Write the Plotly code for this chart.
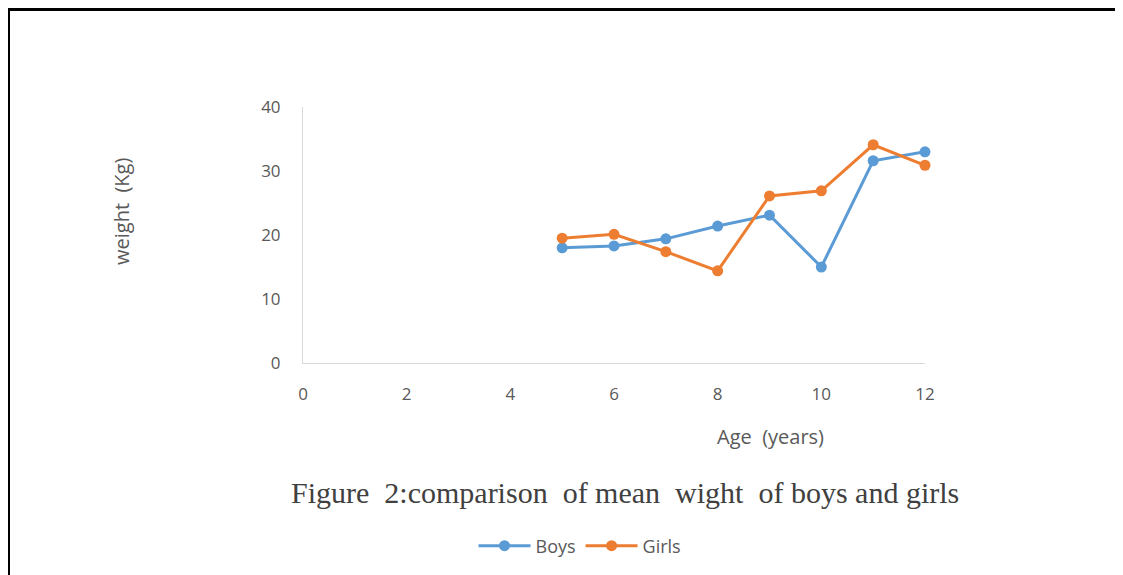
import plotly.graph_objects as go

ages = [5, 6, 7, 8, 9, 10, 11, 12]
boys = [18.0, 18.3, 19.4, 21.4, 23.1, 15.0, 31.6, 33.0]
girls = [19.5, 20.1, 17.4, 14.4, 26.1, 26.9, 34.1, 30.9]
x_ticks = [0, 2, 4, 6, 8, 10, 12]
y_ticks = [0, 10, 20, 30, 40]

OFF = 8  # page body margin
W, H = 1123 - OFF, 575 - OFF
L, R, T, B = 303 - OFF, 925 - OFF, 107 - OFF, 363 - OFF

def px(xp):
    return (xp - OFF - L) / (R - L)

def py(yp):
    return (B - (yp - OFF)) / (B - T)

fig = go.Figure()
fig.add_trace(go.Scatter(x=ages, y=boys, name="Boys", mode="lines+markers",
                         line=dict(color="#5b9bd5", width=3),
                         marker=dict(color="#5b9bd5", size=11),
                         cliponaxis=False))
fig.add_trace(go.Scatter(x=ages, y=girls, name="Girls", mode="lines+markers",
                         line=dict(color="#ed7d31", width=3),
                         marker=dict(color="#ed7d31", size=11),
                         cliponaxis=False))

sans = "Open Sans, DejaVu Sans, sans-serif"
tick_font = dict(family=sans, size=17, color="#595959")

fig.update_layout(
    width=W, height=H,
    margin=dict(l=L, r=W - R, t=T, b=H - B, autoexpand=False),
    paper_bgcolor="white", plot_bgcolor="white",
    showlegend=True,
    legend=dict(orientation="h", x=px(580), y=py(546), xanchor="center", yanchor="middle",
                font=dict(family=sans, size=18, color="#595959"),
                itemwidth=52, bgcolor="rgba(0,0,0,0)"),
    xaxis=dict(range=[0, 12], tickvals=x_ticks, showgrid=False, zeroline=False,
               showline=True, linecolor="#d9d9d9", linewidth=1, ticks="",
               tickfont=tick_font, ticklabelstandoff=16),
    yaxis=dict(range=[0, 40], tickvals=y_ticks, showgrid=False, zeroline=False,
               showline=True, linecolor="#d9d9d9", linewidth=1, ticks="",
               tickfont=tick_font, ticklabelstandoff=18),
    annotations=[
        dict(text="Age&nbsp; (years)", x=px(770), y=py(436), xref="paper", yref="paper",
             showarrow=False, xanchor="center", yanchor="middle",
             font=dict(family=sans, size=20, color="#595959")),
        dict(text="weight&nbsp; (Kg)", x=px(121), y=py(212), xref="paper", yref="paper",
             showarrow=False, xanchor="center", yanchor="middle", textangle=-90,
             font=dict(family=sans, size=20, color="#595959")),
        dict(text="Figure&nbsp; 2:comparison&nbsp; of mean&nbsp; wight&nbsp; of boys and girls",
             x=px(625), y=py(492), xref="paper", yref="paper",
             showarrow=False, xanchor="center", yanchor="middle",
             font=dict(family="Liberation Serif, Times New Roman, serif", size=30, color="#404040")),
    ],
    shapes=[
        dict(type="line", xref="paper", yref="paper", x0=px(6), x1=px(1140),
             y0=py(9.5), y1=py(9.5), line=dict(color="black", width=3)),
        dict(type="line", xref="paper", yref="paper", x0=px(8.5), x1=px(8.5),
             y0=py(8), y1=py(590), line=dict(color="black", width=3)),
    ],
)

fig.write_html("out.html")
